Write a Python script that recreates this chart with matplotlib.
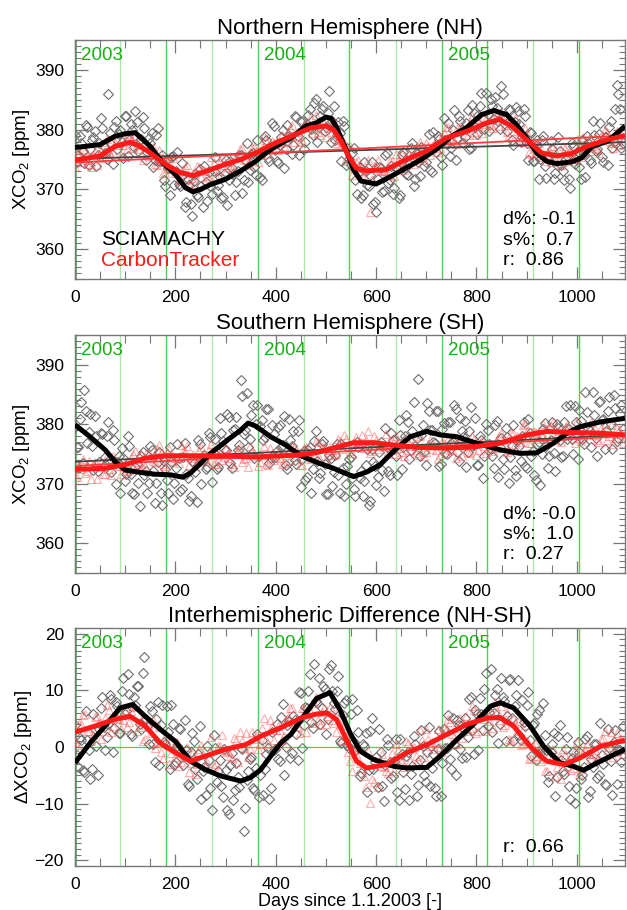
import numpy as np
import matplotlib
matplotlib.use('Agg')
import matplotlib.pyplot as plt
from matplotlib.ticker import MultipleLocator

plt.rcParams['font.family'] = ['Liberation Sans', 'DejaVu Sans']
plt.rcParams['mathtext.fontset'] = 'custom'
plt.rcParams['mathtext.rm'] = 'Liberation Sans'
plt.rcParams['mathtext.it'] = 'Liberation Sans'

# ---- day axes for the daily scatter ----
sat_days = list(range(0, 1093, 6))     # SCIAMACHY diamonds, first pass
sat_days2 = list(range(3, 1090, 6))    # SCIAMACHY diamonds, second pass
ct_days = list(range(4, 1093, 8))      # CarbonTracker triangles
ct_days2 = list(range(0, 1089, 8))

# ---- Northern Hemisphere ----
nh_sat = [379.1, 375.7, 377.7, 374.4, 380.4, 376.8, 378.7, 373.9, 377.7, 380.3, 376.1, 385.9, 377.6, 380.5, 376.7, 379.9,
          375.2, 382.2, 378.3, 379.9, 383.1, 376.4, 378.4, 380.2, 376.3, 377.8, 373.7, 379.1, 374.7, 375.8, 370.5, 373.6,
          375.5, 370.8, 376.2, 370.5, 372.4, 367.9, 370.7, 365.6, 372.6, 368.8, 370.5, 373.9, 368.0, 370.6, 373.1, 369.8,
          372.0, 368.7, 374.9, 371.5, 373.6, 369.0, 373.0, 375.7, 371.5, 377.8, 373.2, 376.1, 372.4, 375.9, 371.5, 378.9,
          375.2, 377.1, 380.6, 374.7, 377.4, 380.0, 376.7, 379.0, 375.9, 382.3, 379.0, 381.2, 376.8, 380.9, 383.4, 379.1,
          385.2, 380.5, 383.4, 379.7, 382.8, 377.9, 384.0, 379.1, 379.4, 381.5, 374.1, 375.1, 376.1, 371.5, 372.8, 368.6,
          374.5, 370.7, 372.4, 367.5, 366.2, 373.8, 369.5, 375.8, 371.0, 373.9, 370.2, 373.6, 369.0, 376.2, 372.5, 374.3,
          377.8, 371.8, 374.5, 377.1, 373.9, 376.3, 373.2, 379.6, 376.2, 378.4, 374.1, 378.2, 381.1, 377.0, 383.3, 378.6,
          381.4, 377.7, 381.1, 376.7, 384.1, 380.5, 382.5, 386.1, 380.1, 382.6, 385.1, 381.8, 383.7, 380.1, 385.9, 382.1,
          383.5, 378.2, 381.3, 383.2, 378.0, 383.4, 377.7, 379.6, 374.8, 377.2, 371.8, 378.3, 373.9, 375.1, 378.1, 371.8,
          374.1, 376.5, 373.0, 375.1, 371.7, 377.8, 374.3, 376.3, 371.7, 375.9, 378.9, 374.9, 381.4, 376.5, 379.3, 375.4,
          378.7, 374.1, 381.5, 377.9, 387.5, 383.5, 377.8]
nh_sat2 = [374.6, 378.9, 376.4, 380.7, 374.1, 378.2, 379.7, 375.8, 381.9, 377.3, 375.1, 379.4, 374.2, 381.5, 379.3, 377.9,
           382.2, 375.6, 380.9, 377.1, 381.3, 378.3, 382.1, 375.0, 378.6, 379.5, 374.9, 380.3, 374.8, 371.6, 375.1, 369.1,
           375.6, 373.0, 370.9, 374.4, 367.0, 371.7, 367.5, 371.4, 369.0, 373.4, 367.0, 371.2, 372.9, 369.2, 375.4, 370.8,
           368.5, 372.6, 367.4, 374.7, 372.6, 371.3, 375.8, 369.4, 374.9, 371.3, 375.9, 373.7, 378.2, 372.0, 376.4, 378.3,
           374.7, 381.1, 376.6, 374.4, 378.7, 373.6, 380.8, 378.7, 377.5, 382.1, 375.8, 381.4, 377.9, 382.5, 380.1, 384.5,
           378.0, 382.3, 384.0, 380.4, 386.4, 381.5, 378.2, 381.3, 374.7, 380.6, 377.0, 374.1, 377.0, 369.2, 373.7, 369.0,
           373.1, 370.5, 374.6, 367.9, 371.8, 373.5, 369.8, 376.1, 371.5, 369.3, 373.6, 368.5, 375.7, 373.6, 372.4, 376.9,
           370.5, 375.9, 372.3, 376.8, 374.6, 379.2, 372.9, 377.3, 379.0, 375.5, 382.0, 377.6, 375.6, 380.0, 374.9, 382.2,
           380.0, 378.8, 383.3, 377.0, 382.7, 379.2, 383.9, 381.8, 386.2, 379.7, 383.9, 385.5, 381.5, 387.3, 382.3, 379.7,
           383.3, 377.4, 383.8, 380.9, 378.7, 382.3, 374.9, 379.4, 374.7, 378.2, 375.1, 378.9, 371.9, 375.6, 376.8, 372.8,
           378.7, 374.0, 371.5, 375.6, 370.2, 377.3, 375.1, 373.8, 378.2, 372.0, 377.8, 374.4, 379.1, 376.7, 381.1, 374.6,
           378.8, 380.4, 377.0, 383.4, 386.0, 377.0]
nh_ct = [375.9, 374.5, 376.6, 374.2, 375.7, 374.0, 376.4, 377.9, 376.3, 376.1, 378.4, 375.7, 378.2, 379.2, 377.0, 377.5,
         375.8, 377.6, 375.6, 377.1, 374.1, 375.0, 372.7, 374.5, 375.3, 372.8, 371.9, 373.7, 370.6, 372.8, 373.9, 372.1,
         373.1, 371.9, 374.4, 373.1, 375.4, 373.1, 374.7, 373.1, 375.5, 376.9, 375.1, 374.8, 377.1, 374.5, 377.1, 378.3,
         376.6, 377.7, 376.6, 379.1, 377.9, 380.2, 378.0, 379.6, 378.1, 380.6, 382.0, 380.1, 379.6, 381.6, 378.8, 380.8,
         381.2, 378.2, 377.9, 375.1, 377.3, 373.5, 374.9, 372.2, 373.4, 366.2, 373.9, 375.0, 373.0, 372.4, 374.7, 372.2,
         374.8, 376.0, 374.3, 375.4, 374.3, 376.7, 375.5, 377.8, 375.7, 377.6, 376.2, 378.9, 380.4, 378.5, 378.1, 380.4,
         377.7, 380.2, 381.3, 379.6, 380.6, 379.5, 382.0, 380.7, 382.9, 380.6, 381.7, 379.6, 381.4, 381.9, 379.2, 378.0,
         379.4, 375.9, 377.6, 377.8, 375.4, 376.0, 374.5, 376.6, 375.1, 377.2, 374.8, 376.3, 374.7, 377.3, 378.7, 376.9,
         376.5, 378.7, 376.1, 378.6, 379.6, 377.8, 378.7, 377.5, 379.9]
nh_ct2 = [373.8, 375.9, 376.8, 374.9, 373.7, 376.5, 375.9, 375.2, 378.5, 375.6, 377.8, 377.4, 377.4, 376.7, 378.5, 379.0,
          376.7, 375.0, 377.2, 375.9, 374.3, 376.6, 372.8, 374.3, 373.4, 372.8, 371.6, 373.4, 374.0, 371.9, 370.9, 373.8,
          373.2, 372.3, 375.4, 372.3, 374.5, 374.1, 374.1, 373.4, 375.6, 376.7, 375.0, 374.0, 377.0, 376.5, 375.7, 378.9,
          375.9, 378.1, 377.8, 377.9, 377.3, 379.6, 380.7, 378.9, 377.9, 380.9, 380.4, 379.5, 382.4, 379.1, 381.1, 380.2,
          379.6, 377.7, 378.6, 378.0, 374.8, 372.4, 374.5, 373.5, 372.2, 375.0, 371.8, 373.7, 373.2, 373.0, 372.4, 374.8,
          375.9, 374.3, 373.3, 376.3, 375.8, 374.9, 378.0, 375.0, 377.3, 377.2, 377.4, 377.0, 379.4, 380.4, 378.6, 377.6,
          380.5, 379.9, 379.1, 382.2, 379.1, 381.3, 381.0, 381.0, 380.3, 382.5, 383.0, 380.7, 379.0, 381.1, 379.7, 378.0,
          380.2, 376.3, 377.6, 376.4, 375.8, 374.7, 376.6, 377.3, 375.3, 374.1, 376.9, 376.2, 375.3, 378.5, 375.5, 377.7,
          377.3, 377.3, 376.7, 378.9, 379.9, 378.1, 376.9, 379.8, 379.2]
nh_sat_line_days = [0, 50, 80, 100, 120, 150, 175, 200, 220, 235, 250, 270, 300, 330, 360, 380, 400, 430, 460, 480, 500,
                    510, 520, 540, 555, 570, 600, 630, 660, 690, 720, 750, 780, 810, 835, 860, 880, 900, 920, 940, 960,
                    990, 1010, 1030, 1060, 1080, 1096]
nh_sat_line = [377.0, 377.5, 378.9, 379.3, 379.5, 377.2, 374.4, 372.5, 370.3, 369.6, 370.0, 370.8, 371.7, 373.1, 374.7,
               376.1, 377.2, 378.6, 380.6, 381.1, 382.1, 381.9, 380.6, 376.7, 373.3, 371.4, 370.9, 372.2, 373.6, 375.0,
               376.7, 378.9, 380.3, 382.5, 383.2, 382.5, 380.8, 378.6, 376.1, 374.7, 374.3, 374.6, 375.3, 377.2, 378.0,
               379.4, 380.6]
nh_ct_line_days = [0, 50, 80, 110, 130, 150, 180, 210, 235, 260, 300, 330, 360, 400, 440, 470, 500, 515, 530, 545, 560,
                   580, 620, 660, 700, 740, 780, 820, 845, 870, 900, 930, 960, 990, 1020, 1060, 1096]
nh_ct_line = [374.9, 375.6, 377.2, 377.9, 377.2, 376.1, 374.2, 372.8, 372.3, 373.0, 374.2, 375.0, 376.1, 377.8, 379.2,
              380.3, 380.6, 380.0, 378.1, 375.6, 373.6, 373.1, 373.3, 375.0, 376.4, 378.6, 379.7, 381.1, 381.7, 380.6,
              378.3, 376.1, 375.6, 376.0, 377.2, 378.3, 379.0]
nh_sat_trend = [375.1, 377.9]
nh_ct_trend = [374.5, 379.0]
nh_stats = ['d%: -0.1', 's%:  0.7', 'r:  0.86']

# ---- Southern Hemisphere ----
sh_sat = [379.6, 376.1, 383.8, 385.8, 376.9, 381.7, 372.3, 378.0, 373.6, 378.3, 374.5, 380.4, 372.0, 377.3, 373.7, 368.4,
          374.3, 371.6, 376.4, 368.5, 372.8, 370.1, 374.6, 371.5, 368.4, 376.4, 372.1, 370.2, 375.4, 366.4, 372.5, 368.5,
          373.7, 370.2, 376.6, 368.7, 374.5, 371.7, 367.1, 373.8, 371.9, 377.3, 370.0, 374.9, 372.8, 377.8, 375.2, 372.5,
          381.0, 377.2, 375.7, 381.3, 372.7, 379.2, 375.6, 387.4, 378.3, 385.3, 377.6, 383.3, 380.0, 374.7, 380.7, 377.9,
          382.5, 374.3, 378.4, 375.5, 379.8, 376.5, 373.1, 380.8, 376.3, 374.0, 378.8, 369.5, 375.5, 371.2, 376.2, 372.5,
          378.8, 370.9, 376.7, 373.4, 368.3, 374.4, 371.9, 376.6, 368.5, 372.7, 369.9, 374.2, 371.0, 367.9, 376.2, 372.2,
          370.4, 375.8, 367.1, 373.6, 369.8, 375.3, 372.3, 379.4, 372.1, 378.5, 375.9, 371.5, 378.2, 376.2, 381.5, 374.2,
          378.8, 376.4, 387.6, 378.2, 375.3, 383.5, 379.1, 377.1, 382.2, 373.0, 379.2, 375.1, 380.3, 376.8, 383.2, 375.4,
          381.1, 377.8, 372.8, 378.9, 376.3, 381.1, 373.1, 377.4, 374.7, 379.0, 375.9, 372.6, 380.6, 376.2, 374.2, 379.3,
          370.2, 376.3, 372.3, 377.4, 373.9, 380.4, 372.6, 378.5, 375.5, 370.6, 377.1, 375.0, 380.2, 372.6, 377.3, 375.1,
          380.0, 377.3, 374.6, 383.1, 379.2, 377.6, 383.0, 374.2, 380.6, 376.7, 382.1, 378.8, 385.4, 377.7, 383.8, 380.7,
          375.9, 382.3, 380.0, 384.9, 377.2, 381.7, 379.2]
sh_sat2 = [376.1, 380.9, 373.5, 382.2, 378.7, 376.3, 381.4, 372.2, 378.6, 373.0, 378.0, 374.2, 379.1, 369.9, 374.6, 376.0,
           370.5, 378.0, 371.7, 368.3, 373.4, 366.3, 375.4, 372.2, 370.2, 375.6, 366.8, 373.6, 368.5, 373.9, 370.6, 376.1,
           367.5, 372.6, 374.3, 369.1, 376.8, 370.9, 367.9, 373.5, 367.0, 376.6, 374.0, 372.5, 378.5, 370.3, 377.5, 372.8,
           378.6, 375.8, 381.7, 373.5, 379.1, 381.2, 376.5, 384.7, 379.0, 376.2, 381.5, 374.3, 383.2, 379.7, 377.4, 382.5,
           373.5, 379.9, 374.5, 379.6, 376.2, 381.4, 372.5, 377.3, 378.8, 373.3, 380.7, 374.2, 370.7, 375.6, 368.4, 377.2,
           373.9, 371.8, 377.2, 368.3, 374.9, 369.6, 374.9, 371.5, 376.7, 367.9, 372.9, 374.5, 369.2, 377.0, 371.0, 367.9,
           373.2, 366.4, 375.8, 373.0, 371.2, 377.0, 368.7, 376.1, 371.5, 377.4, 374.7, 380.7, 372.5, 378.1, 380.3, 375.7,
           383.7, 377.7, 374.6, 379.9, 373.1, 382.3, 379.0, 376.9, 382.3, 373.4, 380.2, 375.0, 380.4, 377.1, 382.5, 373.9,
           378.9, 380.5, 375.3, 382.9, 376.5, 373.1, 378.1, 371.0, 380.0, 376.7, 374.6, 379.9, 371.1, 377.7, 372.5, 377.8,
           374.5, 379.9, 371.3, 376.4, 378.1, 373.0, 380.8, 374.6, 371.4, 376.6, 369.8, 379.2, 376.4, 374.6, 380.4, 372.1,
           379.3, 374.5, 380.3, 377.5, 383.3, 375.0, 380.4, 382.4, 377.5, 385.4, 379.4, 376.2, 381.5, 374.6, 383.9, 380.8,
           378.9, 384.5, 375.9, 382.7, 377.7, 383.2]
sh_ct = [371.1, 372.5, 371.8, 373.8, 373.0, 370.8, 373.7, 371.7, 372.4, 374.6, 373.7, 371.6, 373.5, 372.3, 375.0, 373.3,
         375.0, 373.0, 374.5, 373.8, 375.8, 375.1, 372.9, 375.8, 373.8, 374.4, 376.5, 375.4, 373.2, 375.0, 373.6, 376.1,
         374.1, 375.6, 373.4, 374.8, 374.0, 376.0, 375.1, 372.8, 375.7, 373.7, 374.3, 376.3, 375.2, 373.0, 374.8, 373.4,
         376.0, 374.0, 375.5, 373.4, 374.8, 374.0, 376.1, 375.4, 373.1, 376.1, 374.2, 374.9, 377.1, 376.2, 374.2, 376.1,
         374.9, 377.6, 375.8, 377.5, 375.5, 377.0, 376.2, 378.2, 377.4, 375.1, 378.0, 375.9, 376.4, 378.4, 377.2, 375.0,
         376.7, 375.3, 377.7, 375.6, 377.1, 374.8, 376.2, 375.4, 377.4, 376.5, 374.2, 377.1, 375.1, 375.7, 377.9, 376.8,
         374.6, 376.5, 375.1, 377.6, 375.7, 377.3, 375.2, 376.7, 376.0, 378.1, 377.4, 375.3, 378.5, 376.7, 377.5, 379.8,
         378.9, 376.8, 378.7, 377.5, 380.1, 378.2, 379.7, 377.4, 378.8, 378.0, 379.9, 379.1, 376.8, 379.7, 377.7, 378.3,
         380.3, 379.2, 377.0, 378.8, 377.3, 379.8, 377.7, 379.2, 376.9]
sh_ct2 = [371.2, 373.2, 374.1, 372.1, 370.8, 373.6, 372.8, 371.7, 374.6, 371.4, 373.5, 373.0, 372.9, 372.2, 374.4, 375.5,
          373.7, 372.6, 375.4, 374.7, 373.6, 376.5, 373.3, 375.2, 374.6, 374.4, 373.5, 375.5, 376.3, 374.3, 373.0, 375.7,
          374.9, 373.8, 376.6, 373.3, 375.2, 374.5, 374.3, 373.4, 375.4, 376.2, 374.2, 372.8, 375.5, 374.7, 373.6, 376.4,
          373.2, 375.1, 374.5, 374.4, 373.5, 375.5, 376.4, 374.5, 373.2, 376.0, 375.3, 374.3, 377.2, 374.1, 376.2, 375.7,
          375.7, 375.0, 377.2, 378.2, 376.4, 375.2, 377.9, 377.1, 376.0, 378.8, 375.5, 377.3, 376.6, 376.3, 375.3, 377.3,
          378.0, 376.0, 374.6, 377.2, 376.4, 375.2, 378.0, 374.7, 376.6, 375.9, 375.7, 374.8, 376.8, 377.6, 375.7, 374.4,
          377.1, 376.4, 375.3, 378.1, 374.9, 376.9, 376.4, 376.3, 375.5, 377.6, 378.5, 376.7, 375.7, 378.6, 378.0, 377.1,
          380.1, 376.9, 378.9, 378.5, 378.4, 377.6, 379.6, 380.3, 378.3, 377.0, 379.6, 378.8, 377.7, 380.5, 377.2, 379.1,
          378.4, 378.2, 377.3, 379.3, 380.0, 378.0, 376.6, 379.3, 378.4]
sh_sat_line_days = [0, 30, 60, 80, 100, 130, 160, 190, 215, 230, 250, 270, 300, 330, 345, 360, 390, 420, 450, 488, 515,
                    555, 582, 608, 641, 668, 701, 728, 761, 801, 847, 887, 920, 953, 980, 1007, 1047, 1096]
sh_sat_line = [379.9, 377.9, 375.7, 373.7, 372.3, 371.9, 371.6, 371.5, 371.1, 371.8, 373.4, 375.1, 377.1, 379.0, 380.2,
               379.7, 377.9, 376.5, 374.7, 373.4, 372.6, 371.2, 372.0, 373.2, 376.0, 377.9, 378.8, 378.2, 377.9, 376.8,
               375.7, 375.1, 375.2, 376.8, 378.5, 379.6, 380.4, 381.0]
sh_ct_line_days = [0, 60, 100, 140, 180, 220, 280, 360, 440, 480, 515, 555, 595, 635, 688, 741, 794, 847, 900, 940, 993,
                   1047, 1096]
sh_ct_line = [372.4, 372.6, 373.2, 374.3, 374.7, 374.7, 374.7, 374.5, 374.8, 375.2, 376.0, 376.9, 376.9, 376.5, 376.1,
              376.0, 376.2, 376.8, 378.2, 378.8, 378.6, 378.5, 378.2]
sh_sat_trend = [373.7, 378.2]
sh_ct_trend = [373.0, 378.0]
sh_stats = ['d%: -0.0', 's%:  1.0', 'r:  0.27']

# ---- NH - SH difference ----
df_sat = [3.8, -3.5, 1.3, -4.4, 1.3, -5.7, 5.9, 0.1, 3.1, 8.9, -0.5, 4.0, 8.4, 3.4, 7.3, 2.4, 12.1, 6.4, 9.4, 1.9, 7.4,
          10.8, 3.1, 15.9, 3.7, 7.3, 0.5, 5.0, -3.1, 7.4, 0.6, 2.6, 7.4, -3.1, 0.2, 3.2, -3.1, -0.6, -6.8, 2.4, -3.8,
          -1.2, -9.2, -3.6, 0.1, -7.3, 2.1, -6.2, -2.3, -8.9, -4.0, -11.9, -1.0, -7.5, -5.3, -0.2, -14.8, -5.9, -2.1,
          -7.2, -3.7, -8.8, 1.3, -3.8, -0.2, -7.2, -0.6, 4.0, -2.5, 7.6, 0.0, 4.6, -1.1, 4.7, -2.3, 9.5, 3.8, 6.8, 12.8,
          3.4, 8.1, 12.1, 6.8, 10.2, 5.0, 14.5, 7.8, 9.8, 1.0, 5.7, 8.3, -0.1, 8.5, -0.5, 2.6, -4.5, 0.1, -7.9, 2.8,
          -3.9, -1.8, 3.2, -6.9, -3.2, 0.3, -5.4, -2.4, -8.0, 1.5, -4.4, -1.6, -9.3, -3.4, 0.5, -6.7, 3.0, -5.0, -0.8,
          -6.8, -1.3, -8.6, 2.9, -2.9, -0.1, 5.6, -3.9, 0.6, 4.8, -0.4, 3.3, -1.7, 8.4, 3.0, 6.5, -0.6, 5.9, 10.3, 3.7,
          13.8, 6.0, 10.3, 4.1, 8.9, 1.0, 11.8, 5.2, 7.3, 11.8, 1.2, 4.5, 7.5, 1.3, 3.8, -2.3, 6.6, -0.1, 2.1, -6.2,
          -0.9, 2.5, -5.3, 3.8, -4.3, -0.3, -6.9, -2.0, -9.9, 0.9, -5.7, -3.5, 2.0, -7.7, -3.5, 0.5, -4.9, -1.4, -6.6,
          3.2, -2.4, 0.8, -6.6, -0.5, 3.7]
df_sat2 = [-1.4, 1.6, -4.0, 6.3, -0.6, -3.9, 3.1, -5.0, 6.8, 3.6, 1.8, 9.1, -0.9, 8.0, 2.5, 9.8, 5.9, 12.8, 2.3, 8.9,
           10.8, 4.0, 13.1, 5.0, 0.5, 6.4, -2.7, 8.0, 3.8, 0.9, 7.2, -3.9, 4.0, -2.7, 3.4, -1.3, 4.7, -6.6, -0.9, 1.0,
           -5.6, 3.7, -4.2, -8.5, -2.3, -11.2, -0.2, -4.3, -6.9, -0.4, -11.2, -3.1, -9.4, -2.8, -7.0, -0.4, -10.8,
           -4.2, -1.8, -7.6, 2.3, -4.9, -8.4, -1.2, -9.2, 2.7, -0.4, -2.1, 5.3, -4.9, 3.8, -1.9, 5.5, 2.3, 9.7, -0.1,
           7.0, 9.9, 4.4, 14.6, 7.8, 4.1, 10.8, 2.3, 13.8, 9.9, 6.7, 12.5, 0.7, 7.8, 0.3, 5.8, 0.8, 6.5, -5.1, 0.6, 2.5,
           -4.1, 5.2, -2.7, -7.0, -0.8, -9.6, 1.4, -2.6, -5.1, 1.4, -9.4, -1.2, -7.4, -0.8, -4.8, 1.9, -8.7, -2.3, 0.1,
           -6.2, 3.5, -3.7, -7.2, -0.4, -8.6, 3.2, -0.2, -2.1, 5.1, -5.0, 3.8, -2.0, 5.2, 1.7, 8.9, -1.2, 5.8, 8.7, 3.0,
           13.1, 6.1, 2.6, 9.2, 0.7, 12.1, 8.1, 5.5, 12.0, 1.1, 9.1, 2.2, 8.3, 3.7, 9.7, -1.5, 4.2, 5.9, -1.1, 7.7,
           -0.6, -5.2, 0.6, -8.6, 2.0, -2.3, -4.8, 1.8, -9.1, -0.9, -7.3, -0.8, -5.0, 1.5, -8.8, -2.1, 0.5, -5.5, 4.3,
           -3.0, -6.7, -0.1, -8.5, 3.0, -0.5, -2.7]
df_ct = [0.4, 4.0, 5.9, 2.9, 2.2, 5.5, 1.4, 5.1, 6.5, 3.7, 5.2, 3.2, 6.6, 4.5, 7.2, 2.9, 4.7, 1.4, 4.0, 4.8, 0.8, -0.8,
         1.8, -3.0, 0.0, 0.8, -2.7, -1.8, -4.4, -0.9, -3.0, 0.3, -3.3, -0.9, -3.4, 0.2, 2.1, -0.9, -1.6, 1.6, -2.6,
         1.0, 2.4, -0.3, 1.4, -0.4, 3.4, 1.4, 4.7, 1.2, 3.7, 1.2, 4.9, 6.8, 4.0, 3.5, 6.8, 2.7, 6.4, 7.7, 4.8, 6.1, 4.0,
         7.0, 4.3, 6.5, 1.2, 2.0, -2.5, -0.5, 0.0, -3.7, -7.1, -9.8, -6.2, -7.0, -1.2, -4.2, -2.5, -4.3, -0.5, -2.4,
         1.1, -2.5, 0.0, -2.5, 1.2, 3.1, 0.2, -0.3, 3.1, -0.9, 3.0, 4.5, 1.8, 3.4, 1.6, 5.4, 3.3, 6.5, 2.9, 5.4, 2.8,
         6.2, 7.9, 4.7, 3.5, 6.2, 1.3, 4.3, 4.6, 0.6, 1.1, -2.0, 0.7, -2.2, 0.2, -4.2, -2.1, -5.1, -1.8, -0.4, -3.4,
         -4.0, -0.6, -4.7, -0.9, 0.6, -2.2, -0.5, -2.1, 1.6, -0.5, 2.7, -0.9, 1.4, -1.2]
df_ct2 = [0.9, 4.1, 5.6, 2.8, 1.0, 5.3, 4.4, 2.9, 7.4, 2.7, 5.8, 5.0, 4.7, 3.6, 6.3, 7.0, 3.6, 1.1, 4.4, 2.4, -0.1, 3.5,
          -2.0, 0.5, -1.0, -1.7, -3.4, -0.8, 0.0, -2.9, -4.7, -0.3, -1.3, -2.8, 1.8, -3.0, 0.2, -0.6, -0.7, -1.9, 1.3,
          2.6, -0.2, -1.8, 2.7, 1.9, 0.6, 5.2, 0.5, 3.7, 3.0, 3.0, 2.0, 5.3, 6.9, 4.3, 2.5, 6.9, 5.9, 4.3, 8.8, 3.8,
          6.8, 5.4, 4.7, 2.6, 4.1, 3.9, -0.8, -4.2, -1.2, -2.9, -5.1, -0.7, -5.6, -2.6, -3.4, -3.6, -4.5, -1.1, 0.5,
          -2.1, -3.6, 0.7, -0.2, -1.6, 3.0, -1.7, 1.5, 0.9, 0.9, 0.0, 3.4, 4.9, 2.3, 0.6, 5.1, 4.3, 2.8, 7.3, 2.5, 5.7,
          4.9, 4.6, 3.4, 6.4, 7.3, 3.9, 1.4, 5.0, 2.9, 0.3, 3.8, -2.1, 0.1, -1.5, -2.4, -4.3, -1.4, -0.4, -3.5, -5.7,
          -1.4, -2.3, -3.7, 0.9, -3.8, -0.6, -1.3, -1.2, -1.9, 1.4, 2.8, 0.0, -1.8, 2.4, 1.4]
df_sat_line_days = [0, 30, 60, 90, 115, 140, 170, 200, 230, 260, 290, 330, 350, 370, 390, 410, 430, 460, 482, 508, 528,
                    548, 568, 595, 635, 661, 701, 728, 761, 794, 828, 847, 874, 907, 934, 967, 993, 1013, 1047, 1096]
df_sat_line = [-2.8, 0.7, 3.7, 6.9, 7.5, 5.4, 3.1, 1.0, -2.5, -4.0, -5.1, -6.0, -5.4, -4.0, -1.6, 0.7, 2.2, 6.0, 8.6,
               9.6, 6.6, 2.5, -0.7, -2.2, -3.4, -3.7, -3.6, -1.6, 1.3, 4.0, 7.2, 7.8, 6.9, 3.7, 0.1, -2.8, -3.4, -4.1,
               -2.5, -0.4]
df_ct_line_days = [0, 40, 80, 110, 140, 170, 200, 230, 260, 300, 340, 370, 410, 450, 480, 502, 521, 541, 561, 581, 621,
                   661, 701, 734, 781, 821, 847, 874, 907, 940, 974, 1007, 1047, 1096]
df_ct_line = [2.6, 3.7, 4.9, 5.4, 3.7, 0.7, -1.0, -2.5, -1.6, -0.4, 0.4, 1.9, 3.4, 5.1, 5.8, 6.0, 4.9, 1.3, -2.5, -3.7,
              -3.1, -1.0, 0.4, 1.9, 4.0, 5.1, 5.2, 3.7, 0.1, -2.5, -3.1, -1.9, 0.1, 1.2]
df_stats = ['r:  0.66']

# quarter starts and year labels
quarter_days = [90, 181, 273, 365, 456, 547, 639, 731, 821, 912, 1004]
quarter_light = [90, 273, 456, 639, 912]
year_days = [0, 365, 731]
year_names = ['2003', '2004', '2005']

GREEN_TXT = '#11b311'
GREEN_DARK = '#55cc55'
GREEN_LIGHT = '#aee6ae'
FRAME = '#777777'

fig = plt.figure(figsize=(6.27, 9.10), dpi=100)
L, W = 75 / 627, 550 / 627
boxes = [(279, 239), (573, 238), (866, 238)]


def panel(i, title, ylim, sat, sat2, ct, ct2, sat_ld, sat_l, ct_ld, ct_l, stats, trends=None, zero=False):
    bottom, h = boxes[i]
    ax = fig.add_axes([L, 1 - bottom / 910, W, h / 910])
    ax.set_xlim(0, 1096)
    ax.set_ylim(*ylim)
    for d in quarter_days:
        ax.axvline(d, color=GREEN_LIGHT if d in quarter_light else GREEN_DARK, lw=1.0, zorder=1)
    ax.axvline(0, color=GREEN_DARK, lw=2.0, zorder=1)
    if zero:
        ax.axhline(0, color=GREEN_DARK, lw=0.9, zorder=1)
    for d, name in zip(year_days, year_names):
        ax.text(d + 12, ylim[1] - 0.065 * (ylim[1] - ylim[0]), name, color=GREEN_TXT, fontsize=13.5,
                va='center', ha='left', zorder=6)

    dia = dict(ls='none', marker='D', ms=5.2, mfc='none', mec='#6e6e6e', mew=0.8, zorder=2)
    ax.plot(sat_days, sat, **dia)
    ax.plot(sat_days2, sat2, **dia)
    tri = dict(ls='none', marker='^', ms=6, mfc='none', mec=(1, 0.3, 0.3, 0.45), mew=0.8, zorder=3)
    ax.plot(ct_days, ct, **tri)
    ax.plot(ct_days2, ct2, **tri)
    if trends is not None:
        ax.plot([0, 1096], trends[0], color='#444444', lw=1.3, zorder=4)
        ax.plot([0, 1096], trends[1], color='#ff3b3b', lw=1.3, zorder=4)
    ax.plot(sat_ld, sat_l, color='black', lw=3.6, zorder=5, solid_capstyle='butt')
    ax.plot(ct_ld, ct_l, color='#ff1a1a', lw=3.6, zorder=5, solid_capstyle='butt')

    ax.xaxis.set_major_locator(MultipleLocator(200))
    ax.xaxis.set_minor_locator(MultipleLocator(50))
    ax.yaxis.set_major_locator(MultipleLocator(10))
    ax.yaxis.set_minor_locator(MultipleLocator(1))
    ax.tick_params(which='both', direction='in', top=True, right=True, color=FRAME, labelsize=12.5, pad=8)
    ax.tick_params(which='major', length=9, width=0.9)
    ax.tick_params(which='minor', length=4.5, width=0.8)
    ax.tick_params(axis='x', which='minor', length=6)
    for s in ax.spines.values():
        s.set_color(FRAME)
        s.set_linewidth(1.0)
    ax.set_title(title, fontsize=16, pad=4)

    for k, s in enumerate(stats):
        ax.text(0.778, 0.079 + 0.084 * (len(stats) - 1 - k), s, transform=ax.transAxes, fontsize=14,
                va='center', ha='left', zorder=6)
    return ax


ax1 = panel(0, 'Northern Hemisphere (NH)', (355, 395), nh_sat, nh_sat2, nh_ct, nh_ct2, nh_sat_line_days,
            nh_sat_line, nh_ct_line_days, nh_ct_line, nh_stats, trends=(nh_sat_trend, nh_ct_trend))
ax1.set_ylabel('XCO$_2$ [ppm]', fontsize=13.5, labelpad=2)
ax1.text(0.047, 0.167, 'SCIAMACHY', transform=ax1.transAxes, fontsize=15, va='center', color='black', zorder=6)
ax1.text(0.047, 0.079, 'CarbonTracker', transform=ax1.transAxes, fontsize=15, va='center', color='#ff1a1a', zorder=6)

ax2 = panel(1, 'Southern Hemisphere (SH)', (355, 395), sh_sat, sh_sat2, sh_ct, sh_ct2, sh_sat_line_days,
            sh_sat_line, sh_ct_line_days, sh_ct_line, sh_stats, trends=(sh_sat_trend, sh_ct_trend))
ax2.set_ylabel('XCO$_2$ [ppm]', fontsize=13.5, labelpad=2)

ax3 = panel(2, 'Interhemispheric Difference (NH-SH)', (-21, 21), df_sat, df_sat2, df_ct, df_ct2, df_sat_line_days,
            df_sat_line, df_ct_line_days, df_ct_line, df_stats, zero=True)
ax3.set_ylabel('$\\Delta$XCO$_2$ [ppm]', fontsize=13.5, labelpad=0)
ax3.set_xlabel('Days since 1.1.2003 [-]', fontsize=13, labelpad=1)

fig.savefig('out.png', dpi=100)
